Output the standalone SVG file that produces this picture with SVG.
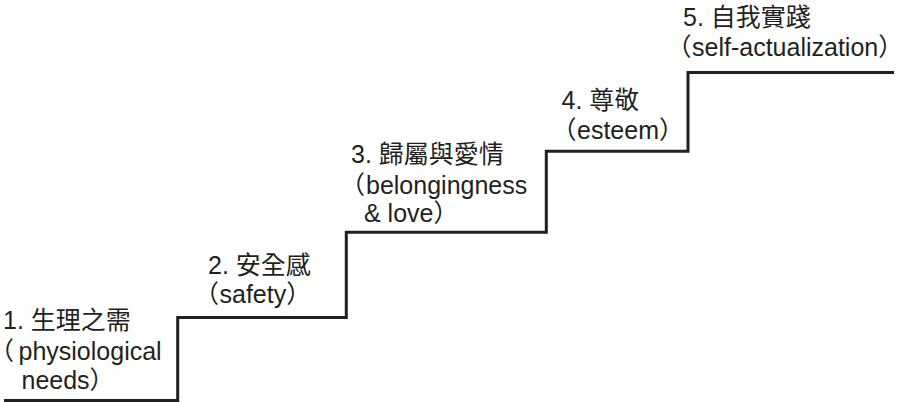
<svg xmlns="http://www.w3.org/2000/svg" width="906" height="402" viewBox="0 0 906 402">
<style>
text{font-family:"Liberation Sans","Noto Sans CJK TC",sans-serif;font-size:25px;fill:#231f20}
.p{font-feature-settings:"halt" 1}
.stair{fill:none;stroke:#231f20;stroke-width:3;stroke-linejoin:miter;stroke-linecap:butt}
</style>
<rect width="906" height="402" fill="#fff"/>
<g id="connectors">
<path class="stair" d="M4 400.5H177.7V317.5H346.3V232.3H546.3V151.3H688V72.5H894"/>
</g>
<g id="step1">
<text x="3" y="329">1. 生理之需</text>
<text y="360"><tspan class="p" x="1.5">（</tspan><tspan x="18.5">physiological</tspan></text>
<text x="21.5" y="389">needs）</text>
</g>
<g id="step2">
<text x="208" y="274">2. 安全感</text>
<text y="303"><tspan class="p" x="206.5">（</tspan><tspan x="219.5">safety）</tspan></text>
</g>
<g id="step3">
<text x="351" y="163">3. 歸屬與愛情</text>
<text y="194"><tspan class="p" x="352.5">（</tspan><tspan x="366">belongingness</tspan></text>
<text x="364" y="222">&amp; love）</text>
</g>
<g id="step4">
<text x="561.5" y="109">4. 尊敬</text>
<text y="139"><tspan class="p" x="564">（</tspan><tspan x="577">esteem）</tspan></text>
</g>
<g id="step5">
<text x="683" y="26">5. 自我實踐</text>
<text y="56"><tspan class="p" x="679">（</tspan><tspan x="692">self-actualization）</tspan></text>
</g>
</svg>
